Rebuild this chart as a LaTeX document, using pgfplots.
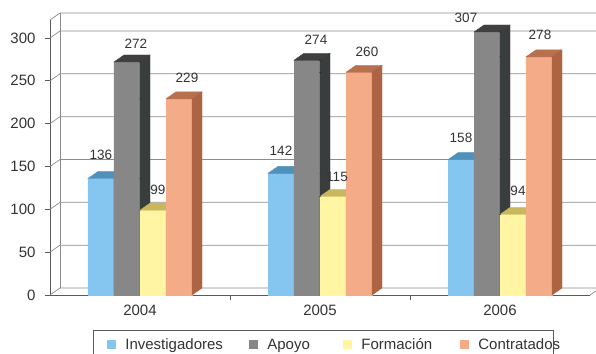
\documentclass[border=0pt]{standalone}
\usepackage{pgfplots}
\pgfplotsset{compat=1.18}
\usepackage{pgfplotstable}
\usepackage{fontspec}
\setmainfont{Liberation Sans}
\definecolor{txt}{HTML}{333333}
\definecolor{gridc}{HTML}{8C8C8C}
\definecolor{axc}{HTML}{5A5A5A}
\definecolor{invF}{HTML}{85C6F0}
\definecolor{invT}{HTML}{4F91BA}
\definecolor{invS}{HTML}{3F7FA8}
\definecolor{apoF}{HTML}{878787}
\definecolor{apoT}{HTML}{404040}
\definecolor{apoS}{HTML}{3A3D3D}
\definecolor{forF}{HTML}{FFF5A3}
\definecolor{forT}{HTML}{C8B75C}
\definecolor{forS}{HTML}{B5A64F}
\definecolor{conF}{HTML}{F4AC88}
\definecolor{conT}{HTML}{B8714F}
\definecolor{conS}{HTML}{AE6343}

% x = group position, y = value, lx/ly = label offset (pt) from front-top centre
\pgfplotstableread{
x y lx ly
0.5 136 0 24
1.5 142 0 23
2.5 158 0 22
}\inv
\pgfplotstableread{
x y lx ly
0.5 272 9 18
1.5 274 9 20
2.5 307 -21 14
}\apo
\pgfplotstableread{
x y lx ly
0.5 99 5 20
1.5 115 4 20
2.5 94 5 24
}\form
\pgfplotstableread{
x y lx ly
0.5 229 8 21
1.5 260 8 20
2.5 278 1 22
}\cont

\newcommand\yu{0.856698}% pt per unit (275/321)

\pgfplotsset{
  front/.style n args={2}{ybar, bar width=26pt, bar shift=#1pt, fill=#2, draw=none,
    legend image code/.code={\path (0pt,0pt); \fill[fill=#2] (14pt,-4.5pt) rectangle (23pt,4.5pt);}},
  deco/.style n args={4}{%
    forget plot, only marks, scatter, mark=*, mark size=0.01pt,
    point meta=y,
    visualization depends on={rawy \as \ry},
    scatter/@pre marker code/.code={%
      \pgfmathsetmacro\hh{\ry*\yu}%
      \fill[#4] ({(#1-13)*1pt},{-\hh pt}) rectangle ({(#1+13)*1pt},0pt);
      \fill[#2] ({(#1-13)*1pt},0pt) -- ({(#1+13)*1pt},0pt) -- ({(#1+23)*1pt},7pt) -- ({(#1-3)*1pt},7pt) -- cycle;
      \fill[#3] ({(#1+13)*1pt},0pt) -- ({(#1+23)*1pt},7pt) -- ({(#1+23)*1pt},{7pt-\hh pt}) -- ({(#1+13)*1pt},{-\hh pt}) -- cycle;
    },
    scatter/@post marker code/.code={},
  },
  lab/.style={%
    forget plot, only marks, scatter, mark=*, mark size=0.01pt,
    point meta=y,
    visualization depends on={\thisrow{lx} \as \lx},
    visualization depends on={\thisrow{ly} \as \ly},
    scatter/@pre marker code/.code={%
      \node[anchor=center, inner sep=0pt, text=txt, font=\fontsize{13.5}{16}\selectfont]
        at ({(#1)*1pt+(\lx)*1pt},{(\ly)*1pt}) {\pgfmathprintnumber{\pgfplotspointmeta}};
    },
    scatter/@post marker code/.code={},
  }
}

\begin{document}
\begin{tikzpicture}
\begin{axis}[
  at={(0,0)}, anchor=south west,
  scale only axis, width=540pt, height=275pt,
  xmin=0, xmax=3, ymin=0, ymax=321,
  clip=false, clip marker paths=true,
  axis x line*=bottom, axis y line*=left,
  axis line style={axc, line width=0.8pt},
  ytick={0,50,100,150,200,250,300},
  xtick={1,2}, xticklabels={},
  extra x ticks={0.5,1.5,2.5}, extra x tick labels={2004,2005,2006},
  extra x tick style={major tick length=0pt, tick label style={yshift=-6pt}},
  yticklabel style={xshift=-6pt},
  tick align=outside, major tick length=5pt,
  tick style={axc, line width=0.8pt},
  ticklabel style={font=\fontsize{15}{18}\selectfont, text=txt},
  /pgf/number format/assume math mode=true,
  legend columns=4,
  legend style={at={(axis description cs:0.0796,-0.1273)}, anchor=north west,
    draw=axc, line width=0.8pt, font=\fontsize{15}{18}\selectfont, text=txt,
    inner xsep=0pt, inner ysep=3pt, column sep=0pt,
    nodes={inner xsep=0pt, inner ysep=5pt}},
]
\pgfplotsinvokeforeach{0,50,100,150,200,250,300}{
  \draw[gridc, line width=0.7pt] (axis cs:0,#1) -- ++(10pt,7pt) -- ([xshift=10pt,yshift=7pt]axis cs:3,#1);
}
\draw[gridc, line width=0.7pt] (axis cs:0,321) -- ++(10pt,7pt) -- ([xshift=10pt,yshift=7pt]axis cs:3,321);
\draw[gridc, line width=0.7pt] ([xshift=10pt,yshift=7pt]axis cs:0,0) -- ([xshift=10pt,yshift=7pt]axis cs:0,321);
\draw[gridc, line width=0.7pt] (axis cs:3,0) -- ++(10pt,7pt);

\addplot[front={-39}{invF}] table[x=x,y=y]{\inv};
\addplot[deco={-39}{invT}{invS}{invF}] table[x=x,y=y]{\inv};
\addplot[front={-13}{apoF}] table[x=x,y=y]{\apo};
\addplot[deco={-13}{apoT}{apoS}{apoF}] table[x=x,y=y]{\apo};
\addplot[front={13}{forF}] table[x=x,y=y]{\form};
\addplot[deco={13}{forT}{forS}{forF}] table[x=x,y=y]{\form};
\addplot[front={39}{conF}] table[x=x,y=y]{\cont};
\addplot[deco={39}{conT}{conS}{conF}] table[x=x,y=y]{\cont};
\addplot[lab={-39}] table[x=x,y=y]{\inv};
\addplot[lab={-13}] table[x=x,y=y]{\apo};
\addplot[lab={13}] table[x=x,y=y]{\form};
\addplot[lab={39}] table[x=x,y=y]{\cont};
\legend{\hspace*{9pt}\makebox[110pt][l]{Investigadores},
  \hspace*{9pt}\makebox[62pt][l]{Apoyo},
  \hspace*{9pt}\makebox[85pt][l]{Formación},
  \hspace*{9pt}\makebox[75pt][l]{Contratados}}
\end{axis}
\pgfresetboundingbox
\useasboundingbox (-50pt,-58pt) rectangle (546pt,295pt);
\end{tikzpicture}
\end{document}
